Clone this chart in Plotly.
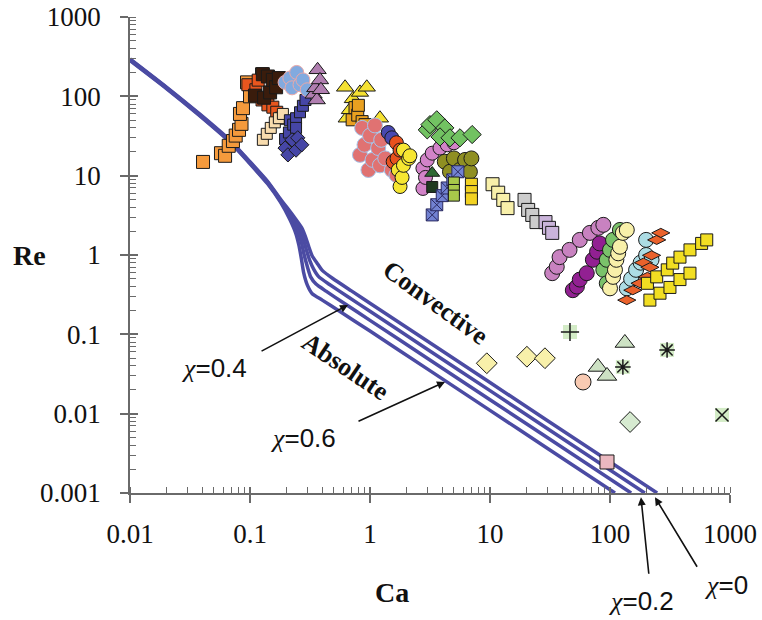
import plotly.graph_objects as go

# ---------------- theory curves (Ca, Re) ----------------
chi06_ca = [0.01, 0.02, 0.038, 0.068, 0.1, 0.14, 0.18, 0.215, 0.24, 0.255, 0.268, 0.28, 0.30, 0.33, 0.40, 0.55, 1, 3, 10, 30, 110]
chi06_re = [282, 126, 57, 26.5, 14.1, 7.9, 4.6, 2.8, 1.9, 1.35, 0.9, 0.6, 0.42, 0.325, 0.27, 0.198, 0.11, 0.0367, 0.011, 0.00367, 0.001]
chi04_ca = [0.01, 0.02, 0.038, 0.068, 0.1, 0.14, 0.18, 0.22, 0.25, 0.268, 0.283, 0.30, 0.32, 0.355, 0.43, 0.6, 1, 3, 10, 30, 150]
chi04_re = [287, 128, 58, 27, 14.4, 8.1, 4.75, 2.9, 2.0, 1.45, 1.0, 0.72, 0.53, 0.43, 0.35, 0.25, 0.15, 0.05, 0.015, 0.005, 0.001]
chi02_ca = [0.01, 0.02, 0.038, 0.068, 0.1, 0.14, 0.18, 0.225, 0.26, 0.28, 0.297, 0.315, 0.34, 0.375, 0.46, 0.65, 1, 3, 10, 30, 195]
chi02_re = [292, 130, 59, 27.5, 14.7, 8.3, 4.9, 3.0, 2.1, 1.55, 1.12, 0.85, 0.66, 0.53, 0.425, 0.3, 0.195, 0.065, 0.0195, 0.0065, 0.001]
chi0_ca = [0.01, 0.02, 0.038, 0.068, 0.1, 0.14, 0.18, 0.23, 0.27, 0.292, 0.31, 0.33, 0.36, 0.40, 0.49, 0.7, 1, 3, 10, 30, 247]
chi0_re = [297, 132, 60, 28, 15.0, 8.5, 5.05, 3.1, 2.2, 1.65, 1.25, 0.97, 0.8, 0.64, 0.505, 0.353, 0.247, 0.0823, 0.0247, 0.0082, 0.001]

# ---------------- experimental data (Ca, Re) ----------------
orange_sq_ca = [0.0406, 0.0573, 0.062, 0.0665, 0.0721, 0.076, 0.081, 0.085, 0.0825, 0.0874, 0.1, 0.0944, 0.126]
orange_sq_re = [14.9, 19.2, 17.8, 23.8, 27.3, 32, 37.8, 45, 60, 71, 100, 150, 190]
redorange_sq_ca = [0.096, 0.112, 0.117, 0.126, 0.141, 0.155, 0.167, 0.183]
redorange_sq_re = [140, 121, 160, 90, 78, 73, 63, 53]
dark_sq_ca = [0.11, 0.128, 0.131, 0.141, 0.147, 0.155, 0.165, 0.174]
dark_sq_re = [102, 190, 96, 178, 112, 161, 130, 170]
peach_sq_ca = [0.128, 0.138, 0.149, 0.161, 0.174, 0.188]
peach_sq_re = [28.3, 33.7, 40, 47, 53, 60]
indigo_sq_ca = [0.196, 0.211, 0.215, 0.229, 0.242, 0.242, 0.261, 0.276, 0.29]
indigo_sq_re = [29, 35, 50, 44, 53, 40, 63, 76, 90]
indigo_dm_ca = [0.196, 0.207, 0.224, 0.242, 0.25, 0.27]
indigo_dm_re = [22.3, 18.3, 28.3, 21, 30, 24.5]
ltblue_ci_ca = [0.196, 0.215, 0.224, 0.245, 0.261, 0.276, 0.3]
ltblue_ci_re = [150, 170, 128, 200, 140, 161, 121]
mauve_tr_ca = [0.339, 0.35, 0.36, 0.366, 0.383, 0.39]
mauve_tr_re = [106, 128, 90, 216, 161, 121]
yellow_tr_ca = [0.62, 0.64, 0.68, 0.72, 0.825, 0.94, 1.21]
yellow_tr_re = [130, 53, 67.6, 93, 112, 130, 53]
amber_sq_ca = [0.71, 0.75, 0.79, 0.8, 0.86, 0.91]
amber_sq_re = [50.6, 72, 58, 77, 48, 44]
salmon_ci_ca = [0.825, 0.86, 0.9, 0.97, 1.0, 1.05, 1.1, 1.17, 1.21, 1.24, 1.34, 1.52, 1.66]
salmon_ci_re = [18.3, 40, 24.5, 11.8, 32, 15.8, 43, 22.3, 13.5, 28.3, 16.5, 11.8, 10.2]
blue_ci_ca = [1.42, 1.52]
blue_ci_re = [35, 30]
redor_ci_ca = [1.56, 1.66, 1.68, 1.78]
redor_ci_re = [15, 26, 16.5, 21]
yellow_ci_ca = [1.72, 1.78, 1.85, 1.9, 1.9, 2.1, 2.15]
yellow_ci_re = [11.8, 7.3, 9.5, 21, 13.5, 16.5, 17.8]
orchid_ci_ca = [2.76, 2.76, 2.9, 3.0, 3.3, 3.83, 4.4, 5.0]
orchid_ci_re = [6.9, 12.4, 9.5, 15.8, 19.2, 22.3, 24.5, 26]
green_dm_ca = [3.0, 3.16, 3.6, 4.2, 3.83, 4.64, 5.62, 7.1]
green_dm_re = [37.8, 44, 50.6, 40, 30.8, 30, 30, 33]
olive_ci_ca = [4.2, 4.64, 5.0, 5.6, 6.2, 6.8, 7.0]
olive_ci_re = [15, 11.2, 16.5, 11.8, 15.8, 11.2, 16.5]
dkgreen_tr_ca = [3.3]
dkgreen_tr_re = [10.8]
dkgreen_sq_ca = [3.3]
dkgreen_sq_re = [7.2]
peri_sqx_ca = [3.3, 3.6, 4.0, 4.4, 4.9, 5.4]
peri_sqx_re = [3.2, 4.3, 5.6, 7.0, 8.85, 11.2]
lime_sq_ca = [5.0, 5.0, 5.0]
lime_sq_re = [8.2, 6.6, 5.6]
gold_sq_ca = [7.0, 7.0, 7.0]
gold_sq_re = [7.8, 6.3, 5.1]
paleyel_sq_ca = [10.5, 11.7, 12.9, 14.0]
paleyel_sq_re = [7.8, 6.1, 4.95, 3.9]
gray_sq_ca = [19.4, 20.8, 22.5, 24.4]
gray_sq_re = [4.95, 3.7, 3.2, 2.6]
lav_sq_ca = [29, 31, 33]
lav_sq_re = [2.6, 2.2, 1.9]
orchid2_ci_ca = [33, 36, 38, 46, 56, 68, 80, 88]
orchid2_ci_re = [0.59, 0.71, 0.94, 1.16, 1.55, 1.9, 2.2, 2.4]
purple_ci_ca = [49, 53, 56, 64, 72, 78, 82]
purple_ci_re = [0.36, 0.4, 0.49, 0.59, 0.87, 1.1, 1.4]
green_ci_ca = [88, 94, 94, 100, 106, 121]
green_ci_re = [0.65, 0.44, 0.87, 1.16, 1.55, 2.07]
paleyel_ci_ca = [100, 106, 110, 113, 117, 121, 128, 138]
paleyel_ci_re = [0.38, 0.53, 0.65, 0.87, 1.05, 1.27, 1.9, 2.07]
ltcyan_ci_ca = [138, 150, 165, 180, 200, 200, 222]
ltcyan_ci_re = [0.38, 0.5, 0.65, 0.8, 1.0, 1.55, 0.87]
redor_sq_ca = [138, 155, 178, 190, 205, 215, 222, 245, 265]
redor_sq_re = [0.27, 0.36, 0.44, 0.8, 0.53, 0.7, 0.99, 1.55, 1.9]
yellow_sq_ca = [215, 261, 316, 383, 464, 205, 245, 300, 333, 383, 464, 580, 640]
yellow_sq_re = [0.27, 0.33, 0.39, 0.49, 0.59, 0.44, 0.53, 0.65, 0.79, 0.94, 1.16, 1.4, 1.55]
paleyel_dm_ca = [9.4, 20.3, 28.7]
paleyel_dm_re = [0.0432, 0.0522, 0.050]
ltgreen_tr_ca = [79.4, 94.4, 133]
ltgreen_tr_re = [0.0388, 0.0299, 0.0778]
ltgreen_dm_ca = [147]
ltgreen_dm_re = [0.00785]
peach_ci_ca = [59.6]
peach_ci_re = [0.0251]
pink_sq_ca = [94.4]
pink_sq_re = [0.00246]
plus_ca = [46.4]
plus_re = [0.107]
aster_ca = [128, 299]
aster_re = [0.0388, 0.0636]
cross_ca = [858]
cross_re = [0.00964]

x_tickvals = [0.01, 0.1, 1, 10, 100, 1000]
x_ticktext = ["0.01", "0.1", "1", "10", "100", "1000"]
y_tickvals = [0.001, 0.01, 0.1, 1, 10, 100, 1000]
y_ticktext = ["0.001", "0.01", "0.1", "1", "10", "100", "1000"]

CURVE_COLOR = "#4b4ba3"
EDGE = "#1a1a1a"

fig = go.Figure()

for ca, re in [(chi0_ca, chi0_re), (chi02_ca, chi02_re), (chi04_ca, chi04_re), (chi06_ca, chi06_re)]:
    fig.add_trace(go.Scatter(x=ca, y=re, mode="lines",
                             line=dict(color=CURVE_COLOR, width=3.5, shape="spline", smoothing=0.5),
                             hoverinfo="skip"))

series = [
    (orange_sq_ca, orange_sq_re, "square", "#f59a3c", EDGE, 13),
    (redorange_sq_ca, redorange_sq_re, "square", "#e8561e", EDGE, 12),
    (dark_sq_ca, dark_sq_re, "square", "#3a1c0c", EDGE, 13),
    (peach_sq_ca, peach_sq_re, "square", "#f8dcae", EDGE, 11),
    (indigo_sq_ca, indigo_sq_re, "square", "#4646a6", EDGE, 11),
    (indigo_dm_ca, indigo_dm_re, "diamond", "#4646a6", EDGE, 11),
    (ltblue_ci_ca, ltblue_ci_re, "circle", "#82aadf", "#eaa8a8", 14),
    (mauve_tr_ca, mauve_tr_re, "triangle-up", "#b07eb0", EDGE, 15),
    (yellow_tr_ca, yellow_tr_re, "triangle-up", "#f5e132", EDGE, 15),
    (amber_sq_ca, amber_sq_re, "square", "#e9a020", EDGE, 12),
    (salmon_ci_ca, salmon_ci_re, "circle", "#e07272", "#a6c4ea", 15),
    (blue_ci_ca, blue_ci_re, "circle", "#4848b0", EDGE, 14),
    (redor_ci_ca, redor_ci_re, "circle", "#e8521e", EDGE, 14),
    (yellow_ci_ca, yellow_ci_re, "circle", "#f6e632", EDGE, 14),
    (orchid_ci_ca, orchid_ci_re, "circle", "#d283c8", EDGE, 14),
    (green_dm_ca, green_dm_re, "diamond", "#72c262", EDGE, 14),
    (olive_ci_ca, olive_ci_re, "circle", "#8f8f22", EDGE, 15),
    (dkgreen_tr_ca, dkgreen_tr_re, "triangle-up", "#2f6a34", EDGE, 13),
    (dkgreen_sq_ca, dkgreen_sq_re, "square", "#1f3a1f", EDGE, 11),
    (peri_sqx_ca, peri_sqx_re, "square-x", "#7282d2", "#2a2a60", 12),
    (lime_sq_ca, lime_sq_re, "square", "#a8c84a", EDGE, 11),
    (gold_sq_ca, gold_sq_re, "square", "#f2d222", EDGE, 12),
    (paleyel_sq_ca, paleyel_sq_re, "square", "#f8f0aa", EDGE, 13),
    (gray_sq_ca, gray_sq_re, "square", "#cccccc", EDGE, 13),
    (lav_sq_ca, lav_sq_re, "square", "#cab4da", EDGE, 13),
    (orchid2_ci_ca, orchid2_ci_re, "circle", "#c882c0", EDGE, 15),
    (purple_ci_ca, purple_ci_re, "circle", "#922092", EDGE, 15),
    (green_ci_ca, green_ci_re, "circle", "#7ac26a", EDGE, 15),
    (paleyel_ci_ca, paleyel_ci_re, "circle", "#f8f0aa", EDGE, 15),
    (ltcyan_ci_ca, ltcyan_ci_re, "circle", "#acdce4", EDGE, 15),
    (redor_sq_ca, redor_sq_re, "diamond-wide", "#ea622c", EDGE, 13),
    (yellow_sq_ca, yellow_sq_re, "square", "#f2de22", EDGE, 12),
    (paleyel_dm_ca, paleyel_dm_re, "diamond", "#f8f0aa", EDGE, 16),
    (ltgreen_tr_ca, ltgreen_tr_re, "triangle-up", "#cde2c4", EDGE, 17),
    (ltgreen_dm_ca, ltgreen_dm_re, "diamond", "#d6ead0", EDGE, 16),
    (peach_ci_ca, peach_ci_re, "circle", "#f8cab2", EDGE, 16),
    (pink_sq_ca, pink_sq_re, "square", "#eab8c0", EDGE, 14),
]
for ca, re, sym, fill, edge, size in series:
    fig.add_trace(go.Scatter(x=ca, y=re, mode="markers",
                             marker=dict(symbol=sym, color=fill, size=size,
                                         line=dict(color=edge, width=1)),
                             hoverinfo="skip"))

# symbols drawn on pale green square backgrounds
for ca, re, sym in [(plus_ca, plus_re, "cross-thin"), (aster_ca, aster_re, "asterisk"),
                    (cross_ca, cross_re, "x-thin")]:
    fig.add_trace(go.Scatter(x=ca, y=re, mode="markers",
                             marker=dict(symbol="square", color="#d3ebc6", size=14,
                                         line=dict(width=0)), hoverinfo="skip"))
    fig.add_trace(go.Scatter(x=ca, y=re, mode="markers",
                             marker=dict(symbol=sym + "-open", color="#1a1a1a", size=13,
                                         line=dict(color="#1a1a1a", width=1.5)),
                             hoverinfo="skip"))

SERIF = "Liberation Serif, Times New Roman, serif"
SANS = "Liberation Sans, Arial, sans-serif"
AX = "#6a6a6a"

axis_common = dict(type="log", showgrid=False, zeroline=False, showline=True, automargin=False,
                   linecolor=AX, linewidth=1.5, ticks="outside", ticklen=8,
                   tickwidth=1.5, tickcolor=AX, ticklabeloverflow="allow",
                   tickfont=dict(family=SERIF, size=27, color="#111"),
                   minor=dict(ticks="inside", ticklen=6, tickwidth=1, tickcolor=AX,
                              dtick="D1", showgrid=False))

fig.update_layout(
    width=762, height=620,
    margin=dict(l=130, r=32, t=17, b=127, autoexpand=False),
    paper_bgcolor="white", plot_bgcolor="white",
    showlegend=False,
    xaxis=dict(range=[-2, 3], tickvals=x_tickvals, ticktext=x_ticktext, ticklabelstandoff=8,
               **axis_common),
    yaxis=dict(range=[-3, 3], tickvals=y_tickvals, ticktext=y_ticktext, ticklabelstandoff=14,
               **axis_common),
    xaxis2=dict(type="log", overlaying="x", matches="x", range=[-2, 3], showgrid=False,
                zeroline=False, showline=False, ticks="inside", ticklen=6, tickwidth=1.5,
                tickcolor=AX, showticklabels=False, side="bottom", automargin=False,
                tickvals=x_tickvals, anchor="y"),
    yaxis2=dict(type="log", overlaying="y", matches="y", range=[-3, 3], showgrid=False,
                zeroline=False, showline=False, ticks="inside", ticklen=8, tickwidth=1.5,
                tickcolor=AX, showticklabels=False, side="left", anchor="x", automargin=False,
                tickvals=y_tickvals),
)
# invisible trace to activate the overlay axes
fig.add_trace(go.Scatter(x=[0.01], y=[1], xaxis="x2", yaxis="y2", mode="markers",
                         marker=dict(opacity=0), hoverinfo="skip"))

CHI = "<span style='font-family:Liberation Serif'><i>χ</i></span>"
ann = []
ann.append(dict(x=0.542, y=-0.604, xref="x", yref="y", text="<b>Convective</b>", textangle=36,
                showarrow=False, font=dict(family=SERIF, size=26, color="#111")))
ann.append(dict(x=-0.208, y=-1.411, xref="x", yref="y", text="<b>Absolute</b>", textangle=34,
                showarrow=False, font=dict(family=SERIF, size=26, color="#111")))
# labels inside the plot (data refs, log10 units)
for lx, ly, txt in [(-1.3, -1.424, "=0.4"), (-0.558, -2.306, "=0.6")]:
    ann.append(dict(x=lx, y=ly, xref="x", yref="y", text=CHI + txt, showarrow=False,
                    xanchor="center", yanchor="middle",
                    font=dict(family=SANS, size=26, color="#111")))
# labels below the x axis (paper y so they are not dropped outside the range)
for lx, ly, txt in [(2.258, -0.227, "=0.2"), (2.967, -0.193, "=0")]:
    ann.append(dict(x=lx, y=ly, xref="x", yref="paper", text=CHI + txt, showarrow=False,
                    xanchor="center", yanchor="middle",
                    font=dict(family=SANS, size=26, color="#111")))
for hx, hy, axp, ayp in [(-0.183, -0.629, -88, 47), (0.625, -1.6, -88, 40)]:
    ann.append(dict(x=hx, y=hy, xref="x", yref="y", ax=axp, ay=ayp, text="", showarrow=True,
                    arrowhead=2, arrowsize=1, arrowwidth=1.6, arrowcolor="#111"))
for hx, hy, axp, ayp in [(2.258, -0.009, 8, 78), (2.375, -0.009, 43, 71)]:
    ann.append(dict(x=hx, y=hy, xref="x", yref="paper", ax=axp, ay=ayp, text="", showarrow=True,
                    arrowhead=2, arrowsize=1, arrowwidth=1.6, arrowcolor="#111"))
ann.append(dict(x=-0.167, y=0.5, xref="paper", yref="paper", text="<b>Re</b>", showarrow=False,
                xanchor="center", yanchor="middle",
                font=dict(family=SERIF, size=28, color="#111")))
ann.append(dict(x=0.437, y=-0.21, xref="paper", yref="paper", text="<b>Ca</b>", showarrow=False,
                xanchor="center", yanchor="middle",
                font=dict(family=SERIF, size=28, color="#111")))
fig.update_layout(annotations=ann)

# remove the browser's default 8px body margin so the 762x620 figure fills the window
fig.write_html("out.html", config={"displayModeBar": False},
               post_script="document.body.style.margin='0px';document.body.style.overflow='hidden';")
